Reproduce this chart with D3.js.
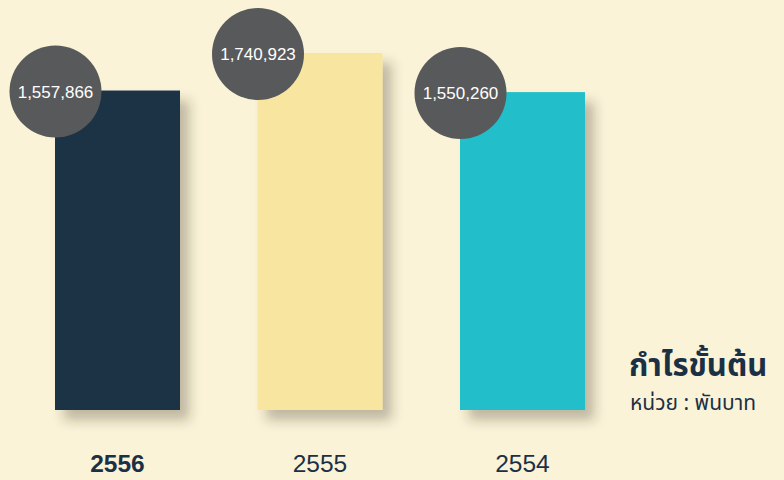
<!DOCTYPE html>
<html><head><meta charset="utf-8">
<script src="https://cdn.jsdelivr.net/npm/d3@7"></script>
<style>
html,body{margin:0;padding:0;background:#faf3d8;}
svg{display:block;}
</style></head>
<body>
<script>
const years = ["2556", "2555", "2554"];
const values = [1557866, 1740923, 1550260];
const colors = ["#1c3045", "#f8e6a0", "#21bec9"];
const title = "กำไรขั้นต้น";
const subtitle = "หน่วย : พันบาท";

const W = 784, H = 480;
const svg = d3.select("body").append("svg").attr("width", W).attr("height", H);
svg.append("rect").attr("width", W).attr("height", H).attr("fill", "#faf3d8");

const defs = svg.append("defs");
const f = defs.append("filter").attr("id", "sh").attr("x", "-20%").attr("y", "-20%").attr("width", "150%").attr("height", "150%");
f.append("feDropShadow").attr("dx", 9).attr("dy", 10).attr("stdDeviation", 6)
  .attr("flood-color", "#3a3320").attr("flood-opacity", 0.3);

const x = d3.scaleBand().domain(years).range([55, 585]).paddingInner(0.3827).paddingOuter(0);
const y = d3.scaleLinear().domain([0, d3.max(values)]).range([410, 53]);

const data = years.map((yr, i) => ({yr, v: values[i], c: colors[i]}));

svg.selectAll("rect.bar").data(data).join("rect").attr("class", "bar")
  .attr("x", d => x(d.yr)).attr("y", d => y(d.v))
  .attr("width", x.bandwidth()).attr("height", d => y(0) - y(d.v))
  .attr("fill", d => d.c).attr("filter", "url(#sh)");

const g = svg.selectAll("g.lab").data(data).join("g").attr("class", "lab")
  .attr("transform", d => `translate(${x(d.yr) + 0.5},${y(d.v) + 1})`);
g.append("circle").attr("r", 46).attr("fill", "#58595b");
g.append("text").attr("text-anchor", "middle").attr("dy", "0.36em")
  .attr("fill", "#ffffff").style("font-family", "'Liberation Sans', Arial, sans-serif")
  .style("font-size", "17px").text(d => d3.format(",")(d.v));

svg.selectAll("text.yr").data(data).join("text").attr("class", "yr")
  .attr("x", d => x(d.yr) + x.bandwidth() / 2).attr("y", 472)
  .attr("text-anchor", "middle").attr("fill", "#1c3045")
  .style("font-family", "'Liberation Sans', Arial, sans-serif").style("font-size", "24.5px")
  .style("font-weight", (d, i) => i === 0 ? "bold" : "normal")
  .text(d => d.yr);

svg.append("text").attr("x", 629).attr("y", 376).attr("fill", "#1c3045")
  .style("font-family", "'Noto Sans Thai', 'Noto Sans', sans-serif").style("font-size", "31px").style("font-weight", "bold")
  .text(title);
svg.append("text").attr("x", 630).attr("y", 410).attr("fill", "#1c3045")
  .style("font-family", "'Noto Sans Thai', 'Noto Sans', sans-serif").style("font-size", "21px")
  .text(subtitle);
</script>
</body></html>
